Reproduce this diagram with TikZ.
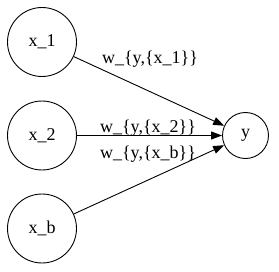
\documentclass[tikz,border=0pt]{standalone}
\usepackage{fontspec}
\setmainfont{Liberation Serif}
\usetikzlibrary{arrows.meta, positioning}

\begin{document}
\begin{tikzpicture}[
        x=1pt, y=1pt,
        unit/.style={draw, circle, line width=0.9pt, minimum size=69pt, inner sep=0pt,
                     font=\fontsize{18}{20}\selectfont},
        outunit/.style={unit, minimum size=46pt},
        wlabel/.style={inner sep=0pt, font=\fontsize{18}{20}\selectfont},
        arr/.style={-{Triangle[length=11pt, width=8pt]}, line width=0.9pt}
      ]
        \useasboundingbox (0,0) rectangle (279,271);
        \node[unit] (x1) at (42,229) {x\_1};
        \node[unit] (x2) at (42,135.5) {x\_2};
        \node[unit] (xb) at (42,42.5) {x\_b};
        \node[outunit] (y) at (245.5,135.5) {y};
        \node[wlabel] (w1) at (150,212) {w\_\{y,\{x\_1\}\}};
        \node[wlabel] (w2) at (148,143) {w\_\{y,\{x\_2\}\}};
        \node[wlabel] (wb) at (148,117) {w\_\{y,\{x\_b\}\}};
        \draw[arr] (x1)--(y);
        \draw[arr] (x2)--(y);
        \draw[arr] (xb)--(y);
      \end{tikzpicture}
\end{document}
